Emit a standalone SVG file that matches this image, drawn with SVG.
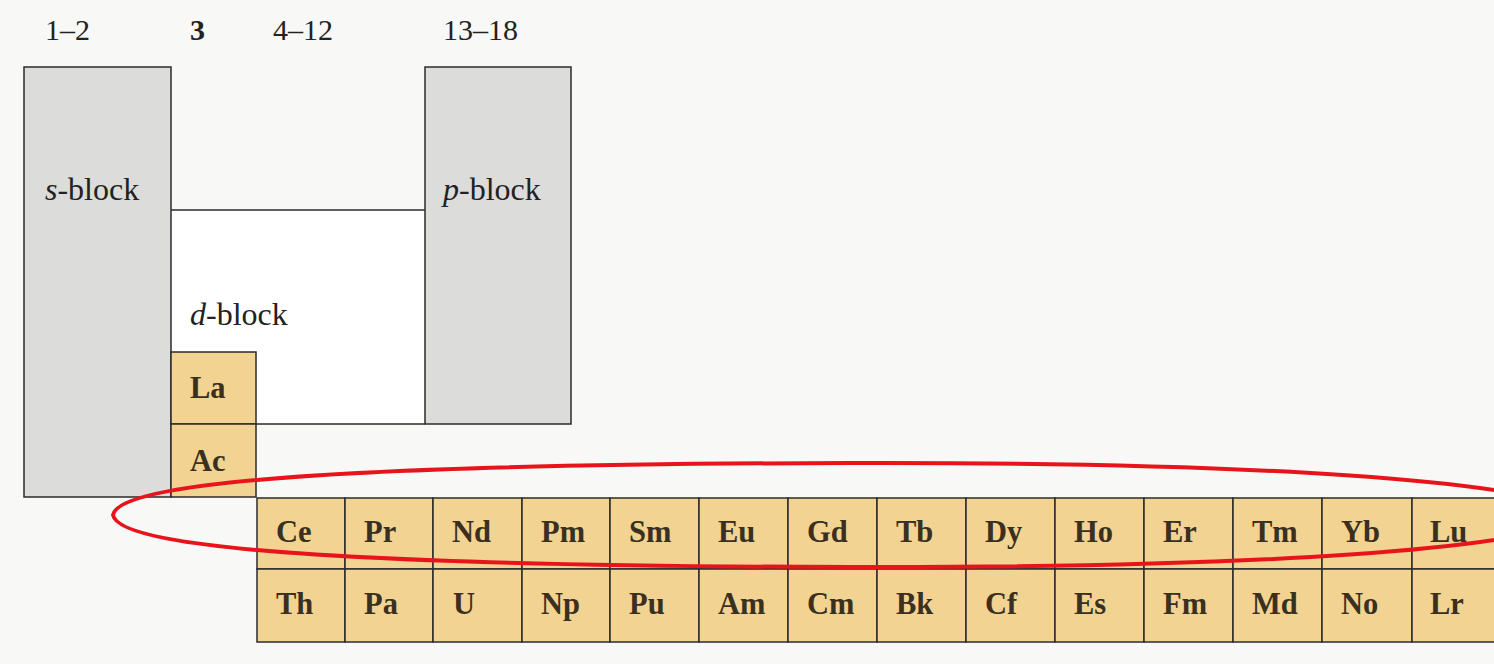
<svg xmlns="http://www.w3.org/2000/svg" width="1494" height="664" viewBox="0 0 1494 664">
<style>
.blk{fill:#dcdcda;stroke:#2b2b2b;stroke-width:1.5}
.cell{fill:#f2d392;stroke:#2b2b2b;stroke-width:1.5}
.ln{stroke:#2b2b2b;stroke-width:1.5;fill:none}
text{font-family:'Liberation Serif','Times New Roman','DejaVu Serif',serif}
.el{font-weight:bold;font-size:30.5px;fill:#3a3020}
.lbl{font-size:32px;fill:#222}
.grp{font-size:30px;fill:#222}
</style>
<rect x="0" y="0" width="1494" height="664" fill="#f8f8f6"/>
<g id="group-labels">
<text class="grp" x="45" y="40">1–2</text>
<text class="grp" x="190" y="40" font-weight="bold">3</text>
<text class="grp" x="273" y="40">4–12</text>
<text class="grp" x="443" y="40">13–18</text>
</g>
<g id="d-block">
<rect x="171" y="210" width="254" height="214" fill="#ffffff"/>
<line class="ln" x1="171" y1="210" x2="425" y2="210"/>
<line class="ln" x1="256" y1="424" x2="425" y2="424"/>
<text class="lbl" x="190" y="325"><tspan font-style="italic">d</tspan>-block</text>
</g>
<g id="s-block">
<rect class="blk" x="24" y="67" width="147" height="430"/>
<text class="lbl" x="45" y="200"><tspan font-style="italic">s</tspan>-block</text>
</g>
<g id="p-block">
<rect class="blk" x="425" y="67" width="146" height="357"/>
<text class="lbl" x="443" y="200"><tspan font-style="italic">p</tspan>-block</text>
</g>
<g id="La"><rect class="cell" x="171" y="352" width="85" height="72"/><text class="el" x="190" y="398">La</text></g>
<g id="Ac"><rect class="cell" x="171" y="424" width="85" height="73"/><text class="el" x="190" y="471">Ac</text></g>
<g id="lanthanides">
<g id="Ce"><rect class="cell" x="257" y="498" width="88" height="71"/><text class="el" x="276" y="542">Ce</text></g>
<g id="Pr"><rect class="cell" x="345" y="498" width="88" height="71"/><text class="el" x="364" y="542">Pr</text></g>
<g id="Nd"><rect class="cell" x="433" y="498" width="89" height="71"/><text class="el" x="452" y="542">Nd</text></g>
<g id="Pm"><rect class="cell" x="522" y="498" width="88" height="71"/><text class="el" x="541" y="542">Pm</text></g>
<g id="Sm"><rect class="cell" x="610" y="498" width="89" height="71"/><text class="el" x="629" y="542">Sm</text></g>
<g id="Eu"><rect class="cell" x="699" y="498" width="89" height="71"/><text class="el" x="718" y="542">Eu</text></g>
<g id="Gd"><rect class="cell" x="788" y="498" width="89" height="71"/><text class="el" x="807" y="542">Gd</text></g>
<g id="Tb"><rect class="cell" x="877" y="498" width="89" height="71"/><text class="el" x="896" y="542">Tb</text></g>
<g id="Dy"><rect class="cell" x="966" y="498" width="89" height="71"/><text class="el" x="985" y="542">Dy</text></g>
<g id="Ho"><rect class="cell" x="1055" y="498" width="89" height="71"/><text class="el" x="1074" y="542">Ho</text></g>
<g id="Er"><rect class="cell" x="1144" y="498" width="89" height="71"/><text class="el" x="1163" y="542">Er</text></g>
<g id="Tm"><rect class="cell" x="1233" y="498" width="89" height="71"/><text class="el" x="1252" y="542">Tm</text></g>
<g id="Yb"><rect class="cell" x="1322" y="498" width="90" height="71"/><text class="el" x="1341" y="542">Yb</text></g>
<g id="Lu"><rect class="cell" x="1412" y="498" width="90" height="71"/><text class="el" x="1430" y="542">Lu</text></g>
</g>
<g id="actinides">
<g id="Th"><rect class="cell" x="257" y="569" width="88" height="73"/><text class="el" x="276" y="614">Th</text></g>
<g id="Pa"><rect class="cell" x="345" y="569" width="88" height="73"/><text class="el" x="364" y="614">Pa</text></g>
<g id="U"><rect class="cell" x="433" y="569" width="89" height="73"/><text class="el" x="453" y="614">U</text></g>
<g id="Np"><rect class="cell" x="522" y="569" width="88" height="73"/><text class="el" x="541" y="614">Np</text></g>
<g id="Pu"><rect class="cell" x="610" y="569" width="89" height="73"/><text class="el" x="629" y="614">Pu</text></g>
<g id="Am"><rect class="cell" x="699" y="569" width="89" height="73"/><text class="el" x="718" y="614">Am</text></g>
<g id="Cm"><rect class="cell" x="788" y="569" width="89" height="73"/><text class="el" x="807" y="614">Cm</text></g>
<g id="Bk"><rect class="cell" x="877" y="569" width="89" height="73"/><text class="el" x="896" y="614">Bk</text></g>
<g id="Cf"><rect class="cell" x="966" y="569" width="89" height="73"/><text class="el" x="985" y="614">Cf</text></g>
<g id="Es"><rect class="cell" x="1055" y="569" width="89" height="73"/><text class="el" x="1074" y="614">Es</text></g>
<g id="Fm"><rect class="cell" x="1144" y="569" width="89" height="73"/><text class="el" x="1163" y="614">Fm</text></g>
<g id="Md"><rect class="cell" x="1233" y="569" width="89" height="73"/><text class="el" x="1252" y="614">Md</text></g>
<g id="No"><rect class="cell" x="1322" y="569" width="90" height="73"/><text class="el" x="1341" y="614">No</text></g>
<g id="Lr"><rect class="cell" x="1412" y="569" width="90" height="73"/><text class="el" x="1430" y="614">Lr</text></g>
</g>
<g id="connectors">
<path d="M113,515 C120,478 400,464 850,463 C1250,462 1540,480 1580,515 C1540,550 1250,568 850,567 C400,566 120,552 113,515 Z" fill="none" stroke="#e8141b" stroke-width="4"/>
</g>
</svg>
